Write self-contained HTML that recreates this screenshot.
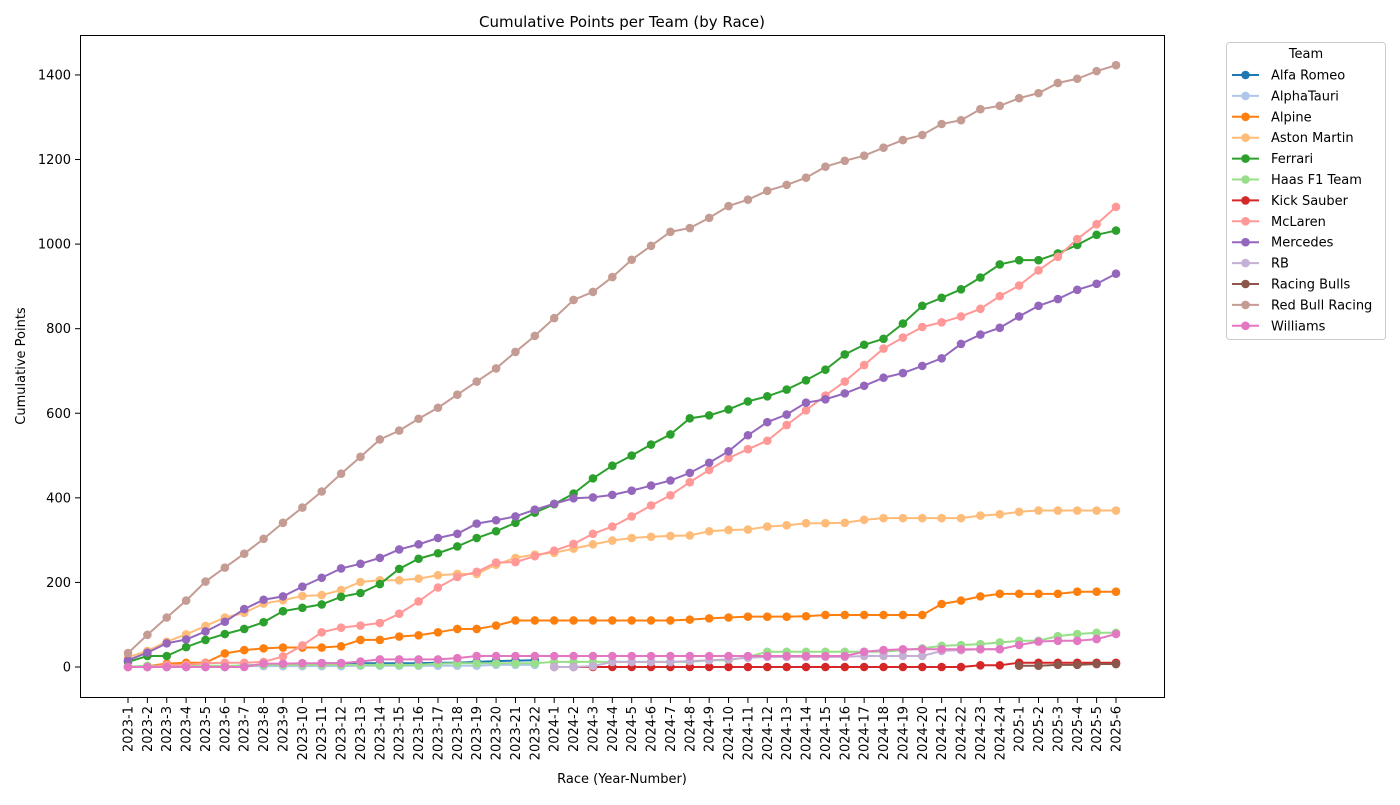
<!DOCTYPE html>
<html><head><meta charset="utf-8"><style>
body{margin:0;background:#fff;font-family:"Liberation Sans","DejaVu Sans",sans-serif;}
svg text{font-family:"DejaVu Sans","Liberation Sans",sans-serif;}
</style></head><body>
<svg id="chart" width="1400" height="800" xmlns="http://www.w3.org/2000/svg"></svg>
<script>
const categories = [];
[[2023,22],[2024,24],[2025,6]].forEach(([y,n])=>{for(let i=1;i<=n;i++)categories.push(y+'-'+i);});
const teams = ["Alfa Romeo","AlphaTauri","Alpine","Aston Martin","Ferrari","Haas F1 Team","Kick Sauber","McLaren","Mercedes","RB","Racing Bulls","Red Bull Racing","Williams"];
const colors = ["#1f77b4","#aec7e8","#ff7f0e","#ffbb78","#2ca02c","#98df8a","#d62728","#ff9896","#9467bd","#c5b0d5","#8c564b","#c49c94","#e377c2"];
const startIdx = [0,0,0,0,0,0,22,0,0,22,46,0,0];
const alfaRomeo = [0,0,0,0,0,0,4,4,6,6,9,9,9,9,9,9,10,10,12,14,15,16];
const alphaTauri = [0,0,1,1,1,1,2,2,2,2,2,2,3,3,3,3,3,3,3,5,5,5];
const alpine = [0,2,8,10,10,32,40,44,46,46,46,49,64,64,72,75,82,90,90,98,110,110,
 110,110,110,110,110,110,110,112,115,117,119,119,119,120,123,123,123,123,123,123,149,157,167,173,
 173,173,173,178,178,178];
const astonMartin = [23,38,60,77,97,117,128,150,158,168,170,182,201,205,205,209,217,220,220,242,258,266,
 270,280,290,299,305,308,310,311,321,324,325,332,335,340,340,341,348,352,352,352,352,352,358,361,
 367,370,370,370,370,370];
const ferrari = [12,26,26,47,64,78,90,106,132,140,148,166,175,196,232,256,269,285,305,321,341,365,
 385,410,446,476,500,526,550,588,595,609,628,640,656,678,703,739,762,776,812,854,873,893,921,952,
 962,962,978,998,1022,1032];
const haas = [1,3,3,3,3,3,3,5,5,5,5,5,5,5,5,5,8,9,9,9,9,9,
 12,12,12,12,12,12,12,12,16,16,24,36,36,36,36,36,36,36,40,44,50,52,54,58,
 62,62,73,78,81,81];
const kickSauber = [0,0,0,0,0,0,0,0,0,0,0,0,0,0,0,0,0,0,0,0,0,0,4,4,
 10,10,10,10,10,10];
const mclaren = [0,0,5,5,9,10,10,12,25,51,82,93,98,104,126,155,188,213,225,247,248,262,
 275,291,315,332,356,382,406,437,466,494,515,535,572,607,642,675,714,753,779,804,815,829,847,877,
 902,938,970,1012,1047,1088];
const mercedes = [16,34,56,65,84,107,137,159,167,190,211,233,244,258,278,290,305,315,339,347,356,372,
 386,399,401,407,417,429,441,459,483,510,548,579,597,625,633,647,665,684,695,712,730,764,786,802,
 829,854,870,892,906,930];
const rb = [0,0,2,12,12,12,12,14,16,18,22,24,24,24,24,24,26,26,26,26,38,40,42,42];
const racingBulls = [3,3,5,5,7,7];
const redBull = [33,76,117,157,202,235,268,303,341,377,415,457,497,538,559,587,613,644,675,706,745,783,
 825,868,887,922,963,996,1029,1038,1062,1090,1105,1126,1140,1157,1183,1197,1209,1228,1246,1258,1284,1293,1319,1327,
 1345,1357,1381,1391,1409,1423];
const williams = [0,0,0,0,0,0,0,8,8,9,9,9,13,18,18,18,18,21,26,26,26,26,
 26,26,26,26,26,26,26,26,26,26,26,26,26,26,26,26,36,40,42,42,42,42,42,42,
 52,60,62,62,66,78];
const series = [alfaRomeo,alphaTauri,alpine,astonMartin,ferrari,haas,kickSauber,mclaren,mercedes,rb,racingBulls,redBull,williams];
const yTicks = [0,200,400,600,800,1000,1200,1400];

const NS="http://www.w3.org/2000/svg";
const svg=document.getElementById('chart');
function mk(tag,attrs,parent){const e=document.createElementNS(NS,tag);for(const k in attrs)e.setAttribute(k,attrs[k]);(parent||svg).appendChild(e);return e;}
const X0=128, X1=1116, Y0=667, YPER=0.4229;
const xs=i=>X0+(X1-X0)*i/(categories.length-1);
const ys=v=>Y0-v*YPER;

const title=mk('text',{x:622,y:27,'text-anchor':'middle','font-size':15});
title.textContent='Cumulative Points per Team (by Race)';



yTicks.forEach(t=>{
  const l=mk('line',{x1:75,x2:80,y1:ys(t),y2:ys(t),stroke:'#000'});
  
  
  const tx=mk('text',{x:71,y:ys(t)+4.5,'text-anchor':'end','font-size':13});
  tx.textContent=t;
  
  
});
categories.forEach((c,i)=>{
  const x=xs(i);
  const l=mk('line',{x1:x,x2:x,y1:698,y2:703,stroke:'#000'});
  
  
  const tx=mk('text',{x:0,y:0,'text-anchor':'end','font-size':13,transform:`translate(${x+4.5},706) rotate(-90)`});
  tx.textContent=c;
  
  
});
const xt=mk('text',{x:622,y:783,'text-anchor':'middle','font-size':13});
xt.textContent='Race (Year-Number)';


const yt=mk('text',{x:0,y:0,'text-anchor':'middle','font-size':13,transform:'translate(25,366) rotate(-90)'});
yt.textContent='Cumulative Points';



series.forEach((vals,s)=>{
  const g=mk('g',{});
  
  
  const pts=vals.map((v,k)=>xs(startIdx[s]+k)+','+ys(v)).join(' ');
  const pl=mk('polyline',{points:pts,fill:'none',stroke:colors[s],'stroke-width':2},g);
  
  
  vals.forEach((v,k)=>{
    const c=mk('circle',{cx:xs(startIdx[s]+k),cy:ys(v),r:4.3,fill:colors[s]},g);
    
    
  });
});
const frame=mk('rect',{x:80.5,y:35.5,width:1084,height:662,fill:'none',stroke:'#000','stroke-width':1});



const lg=mk('g',{});


mk('rect',{x:1226.5,y:42.5,width:159,height:297,rx:3,fill:'#fff',stroke:'#ccc'},lg);
const lt=mk('text',{x:1306,y:58,'text-anchor':'middle','font-size':13},lg);
lt.textContent='Team';


teams.forEach((t,i)=>{
  const y=75+i*20.9;
  const e=mk('g',{},lg);
  
  
  mk('line',{x1:1232,x2:1259,y1:y,y2:y,stroke:colors[i],'stroke-width':2},e);
  mk('circle',{cx:1245.5,cy:y,r:4.3,fill:colors[i]},e);
  const tx=mk('text',{x:1271,y:y+4.5,'font-size':13},e);
  tx.textContent=t;
});
</script>
</body></html>
